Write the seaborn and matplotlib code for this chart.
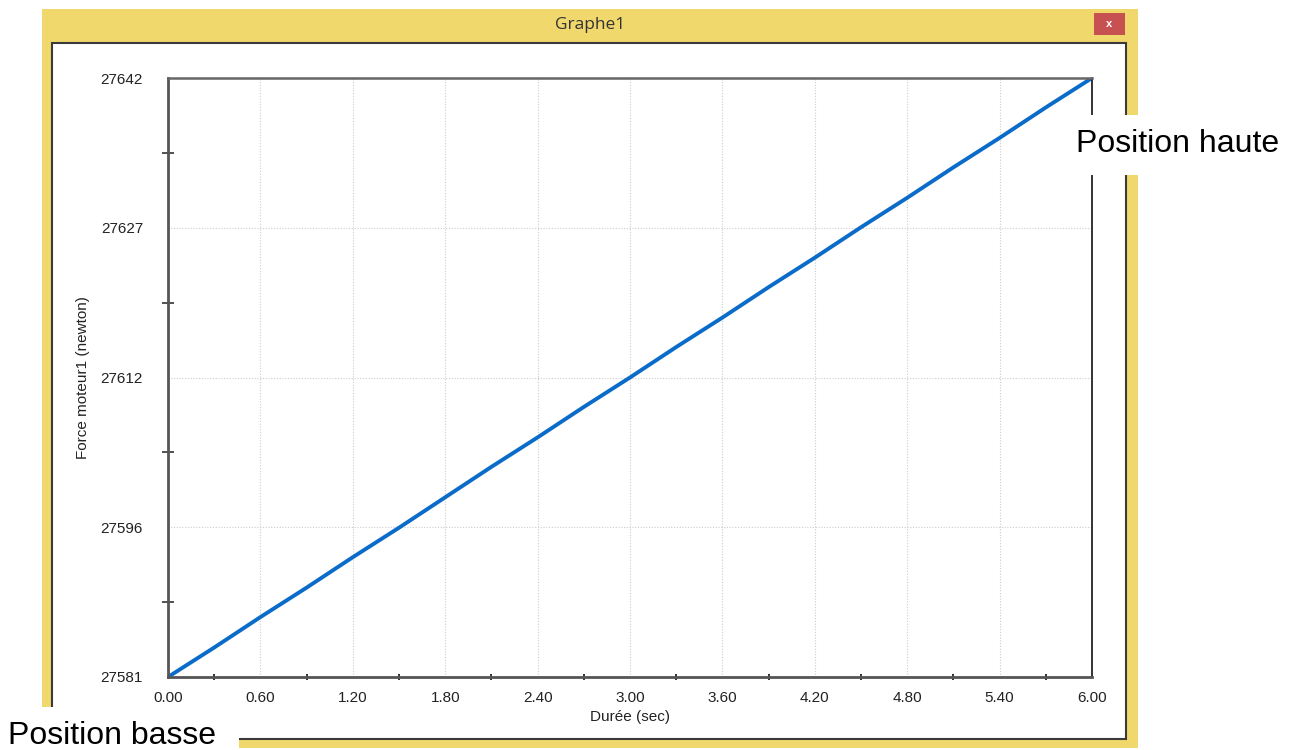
import numpy as np
import pandas as pd
import matplotlib
matplotlib.use("Agg")
import matplotlib.pyplot as plt
import seaborn as sns
from matplotlib.patches import Rectangle

# Data
duree = [0.0, 0.3, 0.6, 0.9, 1.2, 1.5, 1.8, 2.1, 2.4, 2.7, 3.0,
         3.3, 3.6, 3.9, 4.2, 4.5, 4.8, 5.1, 5.4, 5.7, 6.0]
force = [27581.0, 27584.0, 27587.1, 27590.1, 27593.2, 27596.2, 27599.3, 27602.4,
         27605.4, 27608.5, 27611.5, 27614.6, 27617.6, 27620.7, 27623.7, 27626.8,
         27629.8, 27632.9, 27635.9, 27639.0, 27642.0]
x_ticks = [0.00, 0.60, 1.20, 1.80, 2.40, 3.00, 3.60, 4.20, 4.80, 5.40, 6.00]
y_ticks = [27581, 27596.25, 27611.5, 27626.75, 27642]
y_tick_labels = ["27581", "27596", "27612", "27627", "27642"]

df = pd.DataFrame({"Durée (sec)": duree, "Force moteur1 (newton)": force})

sns.set_theme(style="white")
plt.rcParams['font.family'] = ['Liberation Sans', 'DejaVu Sans']

W, H = 1298, 750
fig = plt.figure(figsize=(W / 100, H / 100), dpi=100)
fig.patch.set_facecolor("white")

def px(x, y, w, h):
    # top-down pixel box -> figure fraction rectangle
    return (x / W, 1 - (y + h) / H), w / W, h / H

# window frame
(xy, w, h) = px(42, 9, 1096, 739)
fig.patches.append(Rectangle(xy, w, h, transform=fig.transFigure,
                             facecolor="#f0d86c", edgecolor="none", zorder=-3))
(xy, w, h) = px(52, 43, 1074, 696)
fig.patches.append(Rectangle(xy, w, h, transform=fig.transFigure,
                             facecolor="white", edgecolor="#3a3a3a", lw=1.5, zorder=-2))
# close button
(xy, w, h) = px(1094, 13, 31, 22)
fig.patches.append(Rectangle(xy, w, h, transform=fig.transFigure,
                             facecolor="#c75050", edgecolor="none", zorder=-2))
fig.text(1109.5 / W, 1 - 24 / H, "x", color="white", fontsize=8, fontweight="bold",
         ha="center", va="center", zorder=-1)
fig.text(590 / W, 1 - 25 / H, "Graphe1", color="#333333", fontsize=12.5,
         family=["Open Sans", "DejaVu Sans"], ha="center", va="center")

# plot area
ax = fig.add_axes([168 / W, 1 - 677 / H, 924 / W, 599 / H])
ax.set_facecolor("white")
sns.lineplot(data=df, x="Durée (sec)", y="Force moteur1 (newton)", ax=ax,
             color="#0a6cc8", lw=2.8)

ax.set_xlim(0, 6)
ax.set_ylim(27581, 27642)
ax.set_xticks(x_ticks)
ax.set_xticklabels([f"{v:.2f}" for v in x_ticks])
ax.set_xticks([v + 0.3 for v in x_ticks[:-1]], minor=True)
ax.set_yticks(y_ticks)
ax.set_yticklabels(y_tick_labels)
ax.set_yticks([(a + b) / 2 for a, b in zip(y_ticks[:-1], y_ticks[1:])], minor=True)

ax.grid(True, which="major", color="#cccccc", lw=0.8, linestyle=(0, (1, 1.5)))
ax.tick_params(axis="x", which="major", direction="inout", length=10, width=1.3,
               color="#222222", labelsize=11, labelcolor="#222222", pad=5)
ax.tick_params(axis="x", which="minor", direction="inout", length=5, width=1.3,
               color="#222222", bottom=True)
ax.tick_params(axis="y", which="major", direction="out", length=9, width=1.3,
               color="#555555", labelsize=11, labelcolor="#222222", pad=9)
ax.tick_params(axis="y", which="minor", direction="inout", length=9, width=1.1,
               color="#222222", left=True)

for side in ["left", "bottom"]:
    ax.spines[side].set_color("#555555")
    ax.spines[side].set_linewidth(2)
ax.spines["top"].set_color("#666666")
ax.spines["top"].set_linewidth(1.8)
ax.spines["right"].set_color("#111111")
ax.spines["right"].set_linewidth(1.2)

ax.set_xlabel("Durée (sec)", fontsize=11, color="#222222", labelpad=4)
ax.set_ylabel("Force moteur1 (newton)", fontsize=11, color="#222222", labelpad=8)

# annotation boxes on top of the screenshot
(xy, w, h) = px(1066, 115, 232, 60)
fig.patches.append(Rectangle(xy, w, h, transform=fig.transFigure,
                             facecolor="white", edgecolor="none", zorder=5))
fig.text(1076 / W, 1 - 144 / H, "Position haute", fontsize=23, color="black",
         ha="left", va="center", zorder=6)
(xy, w, h) = px(0, 707, 239, 43)
fig.patches.append(Rectangle(xy, w, h, transform=fig.transFigure,
                             facecolor="white", edgecolor="none", zorder=5))
fig.text(8 / W, 1 - 736 / H, "Position basse", fontsize=23, color="black",
         ha="left", va="center", zorder=6)

fig.savefig("out.png", dpi=100)
